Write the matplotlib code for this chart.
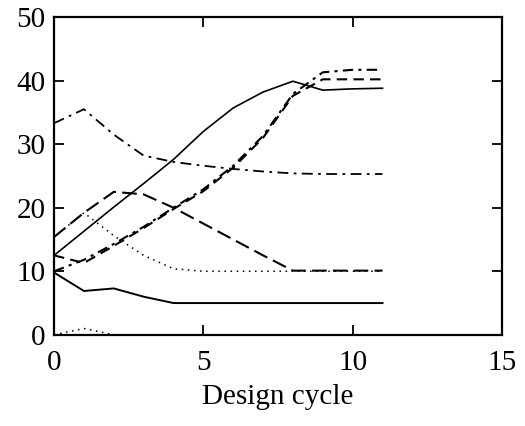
import matplotlib
matplotlib.use("Agg")
import matplotlib.pyplot as plt

# design cycle index
cycle = list(range(12))

# values
solid_rise = [12.5, 16.3, 20.1, 23.8, 27.6, 32.0, 35.7, 38.2, 39.9, 38.5, 38.7, 38.8]
solid_low = [9.8, 6.9, 7.3, 6.0, 5.0, 5.0, 5.0, 5.0, 5.0, 5.0, 5.0, 5.0]
dash_hump = [15.4, 19.2, 22.5, 22.1, 20.0, 17.5, 15.0, 12.5, 10.1, 10.1, 10.1, 10.1]
dot_mid = [15.4, 19.2, 15.6, 12.5, 10.4, 10.0, 10.0, 10.0, 10.0, 10.0, 10.0, 10.0]
dashdot_top = [33.3, 35.5, 31.5, 28.2, 27.2, 26.6, 26.1, 25.7, 25.4, 25.3, 25.3, 25.3]
dash_rise = [12.5, 11.3, 14.0, 16.8, 19.8, 22.6, 26.3, 31.0, 37.6, 40.2, 40.2, 40.2]
dashdot_rise = [10.0, 11.8, 14.3, 17.0, 20.0, 22.9, 26.6, 31.3, 37.9, 41.3, 41.7, 41.7]
dot_low_x = [0, 1, 2]
dot_low = [0.0, 1.0, 0.0]

plt.rcParams["font.family"] = ["Liberation Serif", "DejaVu Serif"]

fig = plt.figure(figsize=(5.25, 4.26), dpi=100)
ax = fig.add_axes([0.103, 0.214, 0.853, 0.746])

k = "black"
ax.plot(cycle, dot_mid, color=k, lw=1.1, dashes=(1, 3))
ax.plot(cycle, solid_rise, color=k, lw=1.2)
ax.plot(cycle, solid_low, color=k, lw=1.4)
ax.plot(cycle, dash_hump, color=k, lw=1.5, dashes=(7, 3))
ax.plot(cycle, dashdot_top, color=k, lw=1.3, dashes=(6, 3, 1.5, 3))
ax.plot(cycle, dash_rise, color=k, lw=1.5, dashes=(5, 3))
ax.plot(cycle, dashdot_rise, color=k, lw=1.5, dashes=(5, 2.5, 1.5, 2.5))
ax.plot(dot_low_x, dot_low, color=k, lw=1.1, dashes=(1, 3))

ax.set_xlim(0, 15)
ax.set_ylim(0, 50)
ax.set_xticks([0, 5, 10, 15])
ax.set_yticks([0, 10, 20, 30, 40, 50])
ax.tick_params(direction="in", length=7, width=1.3, labelsize=21,
               top=True, right=True)
ax.tick_params(axis="x", pad=11)
ax.tick_params(axis="y", pad=6)
for s in ax.spines.values():
    s.set_linewidth(1.6)
ax.set_xlabel("Design cycle", fontsize=21, labelpad=6)

fig.savefig("out.png", dpi=100)
